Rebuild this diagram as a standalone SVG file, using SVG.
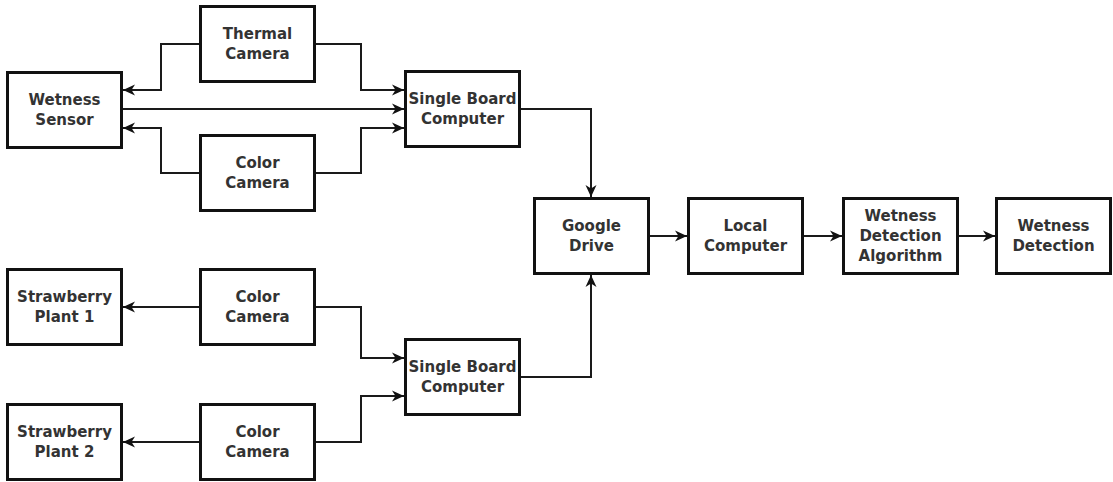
<svg xmlns="http://www.w3.org/2000/svg" width="1113" height="482" viewBox="0 0 1113 482">
<style>
.box{fill:#fff;stroke:#111;stroke-width:3}
.lbl{font-family:"DejaVu Sans",Verdana,sans-serif;font-weight:bold;font-size:15px;fill:#333;text-anchor:middle}
.c{fill:none;stroke:#1a1a1a;stroke-width:2;marker-end:url(#arr)}
</style>
<defs>
<marker id="arr" markerUnits="userSpaceOnUse" markerWidth="13" markerHeight="13" viewBox="0 0 13 13" refX="12" refY="6.5" orient="auto">
<path d="M0,1 L12,6.5 L0,12 L3.5,6.5 Z" fill="#111"/>
</marker>
</defs>
<rect width="1113" height="482" fill="#fff"/>
<g id="connectors">
<path class="c" d="M199,44 H161 V90 H123"/>
<path class="c" d="M316,44 H361 V90 H404"/>
<path class="c" d="M123,109 H404"/>
<path class="c" d="M199,173 H161 V128 H123"/>
<path class="c" d="M316,173 H361 V128 H404"/>
<path class="c" d="M521,109 H591 V197"/>
<path class="c" d="M521,377 H591 V275"/>
<path class="c" d="M650,236 H687"/>
<path class="c" d="M804,236 H842"/>
<path class="c" d="M959,236 H995"/>
<path class="c" d="M199,307 H123"/>
<path class="c" d="M316,307 H361 V358 H404"/>
<path class="c" d="M199,442 H123"/>
<path class="c" d="M316,442 H361 V396 H404"/>
</g>
<g id="wetness-sensor"><rect class="box" x="7.5" y="72.5" width="114" height="75"/><text class="lbl" x="64.5" y="105">Wetness</text><text class="lbl" x="64.5" y="125">Sensor</text></g>
<g id="thermal-camera"><rect class="box" x="200.5" y="6.5" width="114" height="75"/><text class="lbl" x="257.5" y="39">Thermal</text><text class="lbl" x="257.5" y="59">Camera</text></g>
<g id="color-camera-1"><rect class="box" x="200.5" y="135.5" width="114" height="75"/><text class="lbl" x="257.5" y="168">Color</text><text class="lbl" x="257.5" y="188">Camera</text></g>
<g id="sbc-1"><rect class="box" x="405.5" y="71.5" width="114" height="75"/><text class="lbl" x="462.5" y="104">Single Board</text><text class="lbl" x="462.5" y="124">Computer</text></g>
<g id="google-drive"><rect class="box" x="534.5" y="198.5" width="114" height="75"/><text class="lbl" x="591.5" y="231">Google</text><text class="lbl" x="591.5" y="251">Drive</text></g>
<g id="local-computer"><rect class="box" x="688.5" y="198.5" width="114" height="75"/><text class="lbl" x="745.5" y="231">Local</text><text class="lbl" x="745.5" y="251">Computer</text></g>
<g id="wetness-detection-algorithm"><rect class="box" x="843.5" y="198.5" width="114" height="75"/><text class="lbl" x="900.5" y="221">Wetness</text><text class="lbl" x="900.5" y="241">Detection</text><text class="lbl" x="900.5" y="261">Algorithm</text></g>
<g id="wetness-detection"><rect class="box" x="996.5" y="198.5" width="114" height="75"/><text class="lbl" x="1053.5" y="231">Wetness</text><text class="lbl" x="1053.5" y="251">Detection</text></g>
<g id="strawberry-plant-1"><rect class="box" x="7.5" y="269.5" width="114" height="75"/><text class="lbl" x="64.5" y="302">Strawberry</text><text class="lbl" x="64.5" y="322">Plant 1</text></g>
<g id="color-camera-2"><rect class="box" x="200.5" y="269.5" width="114" height="75"/><text class="lbl" x="257.5" y="302">Color</text><text class="lbl" x="257.5" y="322">Camera</text></g>
<g id="sbc-2"><rect class="box" x="405.5" y="339.5" width="114" height="75"/><text class="lbl" x="462.5" y="372">Single Board</text><text class="lbl" x="462.5" y="392">Computer</text></g>
<g id="strawberry-plant-2"><rect class="box" x="7.5" y="404.5" width="114" height="75"/><text class="lbl" x="64.5" y="437">Strawberry</text><text class="lbl" x="64.5" y="457">Plant 2</text></g>
<g id="color-camera-3"><rect class="box" x="200.5" y="404.5" width="114" height="75"/><text class="lbl" x="257.5" y="437">Color</text><text class="lbl" x="257.5" y="457">Camera</text></g>
</svg>
